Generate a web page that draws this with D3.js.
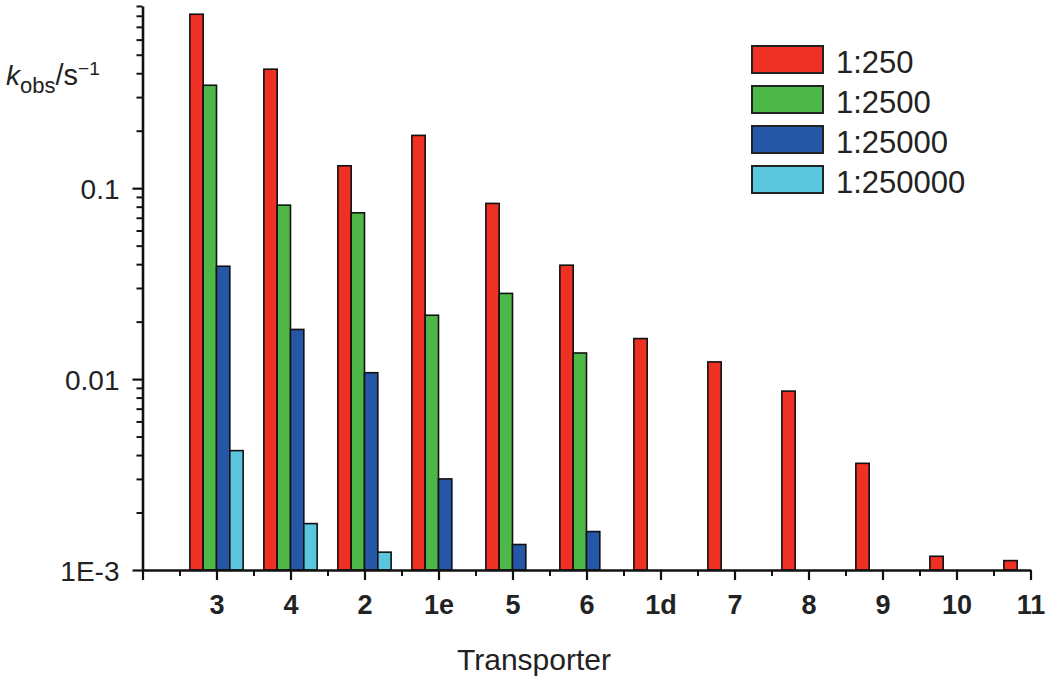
<!DOCTYPE html>
<html>
<head>
<meta charset="utf-8">
<script src="https://cdn.jsdelivr.net/npm/d3@7"></script>
<style>
  body { margin: 0; background: #fff; }
  svg { display: block; font-family: "Liberation Sans", Arial, sans-serif; }
</style>
</head>
<body>
<svg id="chart" width="1050" height="684"></svg>
<script>
// ---- data ----
const categories = ["3", "4", "2", "1e", "5", "6", "1d", "7", "8", "9", "10", "11"];
const seriesNames = ["1:250", "1:2500", "1:25000", "1:250000"];
const seriesColors = ["#ee3124", "#4db848", "#2557a7", "#5bc7de"];
const ratio250    = [0.815, 0.42, 0.131, 0.189, 0.0832, 0.0395, 0.0163, 0.0123, 0.00865, 0.00362, 0.00118, 0.00112];
const ratio2500   = [0.346, 0.0815, 0.0743, 0.0216, 0.0281, 0.0137, null, null, null, null, null, null];
const ratio25000  = [0.039, 0.0182, 0.0108, 0.0030, 0.00136, 0.00159, null, null, null, null, null, null];
const ratio250000 = [0.00422, 0.00175, 0.00124, null, null, null, null, null, null, null, null, null];
const yMajorTicks = [0.001, 0.01, 0.1];
const yTickLabels = ["1E-3", "0.01", "0.1"];
const yDomain = [0.001, 0.9];

const seriesValues = [ratio250, ratio2500, ratio25000, ratio250000];

// ---- layout ----
const svg = d3.select("#chart");
const x = d3.scaleLinear().domain([0, 12]).range([142.5, 1030.5]);
const y = d3.scaleLog().domain(yDomain).range([570, 6]);

const group = d3.scaleBand().domain(categories).range([x(0.5), x(12.5)]).padding(0);
const bw = group.bandwidth();
const inner = d3.scaleBand().domain(seriesNames).range([bw * 0.14, bw * 0.86]).padding(0);

// bars
seriesNames.forEach((name, si) => {
  const data = categories.map((c, i) => ({ c, v: seriesValues[si][i] })).filter(d => d.v != null);
  svg.append("g").selectAll("rect").data(data).join("rect")
    .attr("x", d => group(d.c) + inner(name))
    .attr("y", d => y(d.v))
    .attr("width", inner.bandwidth())
    .attr("height", d => y(yDomain[0]) - y(d.v))
    .attr("fill", seriesColors[si])
    .attr("stroke", "#111")
    .attr("stroke-width", 1.6);
});

// y axis minor ticks
const yMinor = [];
for (let e = -3; e <= -1; e++) {
  for (let m = 2; m <= 9; m++) {
    const v = m * Math.pow(10, e);
    if (v <= yDomain[1] + 1e-9) yMinor.push(v);
  }
}
const yMinorAxis = svg.append("g").attr("transform", `translate(${x(0)},0)`)
  .call(d3.axisLeft(y).tickValues(yMinor).tickSize(6).tickSizeOuter(0).tickFormat(""));
yMinorAxis.select(".domain").remove();
yMinorAxis.selectAll("line").attr("stroke", "#111").attr("stroke-width", 2);

const yAxis = svg.append("g").attr("transform", `translate(${x(0)},0)`)
  .call(d3.axisLeft(y).tickValues(yMajorTicks).tickSize(10).tickSizeOuter(0).tickPadding(13)
    .tickFormat((d, i) => yTickLabels[i]));
yAxis.select(".domain").attr("stroke", "#111").attr("stroke-width", 2.6);
yAxis.selectAll("line").attr("stroke", "#111").attr("stroke-width", 2.2);
yAxis.selectAll("text").attr("font-size", 28).attr("fill", "#222")
  .attr("font-family", "Liberation Sans, Arial, sans-serif").attr("dy", "0.36em");

// x axis
const xMinorAxis = svg.append("g").attr("transform", `translate(0,${y(yDomain[0])})`)
  .call(d3.axisBottom(x).tickValues(d3.range(0.5, 12, 1)).tickSize(6).tickSizeOuter(0).tickFormat(""));
xMinorAxis.select(".domain").remove();
xMinorAxis.selectAll("line").attr("stroke", "#111").attr("stroke-width", 2);

const xAxis = svg.append("g").attr("transform", `translate(0,${y(yDomain[0])})`)
  .call(d3.axisBottom(x).tickValues(d3.range(0, 13)).tickSize(10).tickSizeOuter(0).tickPadding(15)
    .tickFormat(i => i === 0 ? "" : categories[i - 1]));
xAxis.select(".domain").attr("stroke", "#111").attr("stroke-width", 2.6);
xAxis.selectAll("line").attr("stroke", "#111").attr("stroke-width", 2.2);
xAxis.selectAll("text").attr("font-size", 27).attr("font-weight", "bold").attr("fill", "#222")
  .attr("font-family", "Liberation Sans, Arial, sans-serif");

// axis titles
svg.append("text").attr("x", 534).attr("y", 670).attr("text-anchor", "middle")
  .attr("font-size", 30).attr("fill", "#222").text("Transporter");

const yl = svg.append("text").attr("x", 6).attr("y", 85).attr("fill", "#222").attr("font-size", 28);
yl.append("tspan").attr("font-style", "italic").text("k");
yl.append("tspan").attr("font-size", 22).attr("dy", 8).text("obs");
yl.append("tspan").attr("font-size", 29).attr("dy", -8).text("/s");
yl.append("tspan").attr("font-size", 19).attr("dy", -10).text("\u22121");

// legend
const legend = svg.append("g");
seriesNames.forEach((name, i) => {
  const top = 46 + i * 40;
  legend.append("rect").attr("x", 752).attr("y", top).attr("width", 71).attr("height", 27)
    .attr("fill", seriesColors[i]).attr("stroke", "#222").attr("stroke-width", 2);
  legend.append("text").attr("x", 836).attr("y", top + 27).attr("font-size", 31)
    .attr("fill", "#222").text(name);
});
</script>
</body>
</html>
